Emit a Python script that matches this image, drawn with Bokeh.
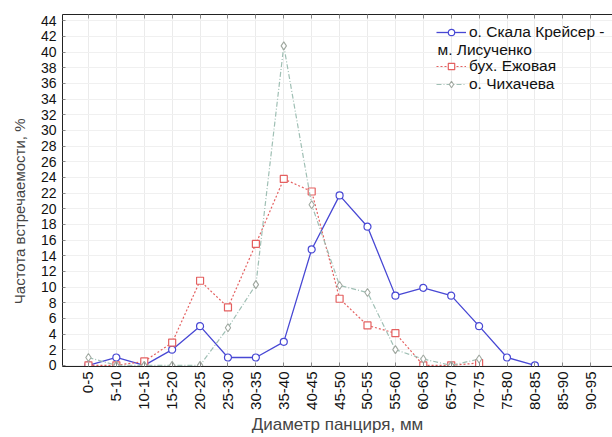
from bokeh.plotting import figure
from bokeh.models import (Range1d, FixedTicker, LinearAxis, Legend, LegendItem, Label)
from bokeh.embed import file_html
from bokeh.resources import INLINE

categories = ["0-5", "5-10", "10-15", "15-20", "20-25", "25-30", "30-35", "35-40",
              "40-45", "45-50", "50-55", "55-60", "60-65", "65-70", "70-75", "75-80",
              "80-85", "85-90", "90-95"]
skala = [0, 1.0, 0, 2.0, 5.0, 1.0, 1.0, 3.0, 14.8, 21.7, 17.7, 8.9, 9.9, 8.9, 5.0, 1.0, 0]
ezhovaya = [0, 0, 0.5, 2.9, 10.8, 7.4, 15.5, 23.8, 22.2, 8.5, 5.1, 4.1, 0, 0, 0.3]
chikhacheva = [1.0, 0, 0, 0, 0, 4.8, 10.3, 40.8, 20.5, 10.2, 9.3, 2.0, 0.8, 0, 0.8]
yticks = list(range(0, 46, 2))

FONT = "Liberation Sans"

p = figure(width=612, height=437, output_backend="svg", toolbar_location=None,
           x_range=Range1d(-0.93, 18.78), y_range=Range1d(-0.15, 44.8),
           min_border_left=62, min_border_right=0, min_border_top=14,
           min_border_bottom=71)
p.outline_line_color = None
p.background_fill_color = "white"
p.border_fill_color = "white"

xs = list(range(len(categories)))

# axes
xa = p.xaxis[0]
xa.ticker = FixedTicker(ticks=xs)
xa.major_label_overrides = {i: c for i, c in enumerate(categories)}
xa.major_label_orientation = 1.5707963
xa.major_label_text_font = FONT
xa.major_label_text_font_size = "15px"
xa.major_label_text_color = "#111111"
xa.major_label_standoff = 5
xa.axis_label = "Диаметр панциря, мм"
xa.axis_label_text_font = FONT
xa.axis_label_text_font_size = "17px"
xa.axis_label_text_font_style = "normal"
xa.axis_label_standoff = 2
xa.major_tick_in = 4
xa.major_tick_out = 0
xa.minor_tick_line_color = None
xa.axis_line_color = "#222222"
xa.major_tick_line_color = "#888888"

ya = p.yaxis[0]
ya.ticker = FixedTicker(ticks=yticks)
ya.major_label_text_font = FONT
ya.major_label_text_font_size = "14px"
ya.major_label_text_color = "#111111"
ya.axis_label = "Частота встречаемости, %" + "\u00a0" * 10
ya.axis_label_text_font = FONT
ya.axis_label_text_font_size = "15px"
ya.axis_label_text_font_style = "normal"
ya.axis_label_standoff = 10
ya.major_tick_in = 3
ya.major_tick_out = 0
ya.minor_tick_line_color = None
ya.axis_line_color = "#222222"
ya.major_tick_line_color = "#888888"
ya.major_label_standoff = 6

top = LinearAxis(ticker=FixedTicker(ticks=[], minor_ticks=xs),
                 minor_tick_in=4, minor_tick_out=0, major_tick_line_color=None,
                 axis_line_color="#222222", minor_tick_line_color="#888888")
p.add_layout(top, "above")

p.xgrid.ticker = FixedTicker(ticks=xs)
p.xgrid.grid_line_color = "#ebebeb"
p.ygrid.ticker = FixedTicker(ticks=yticks)
p.ygrid.grid_line_color = "#f0f0f0"

# series
c_blue = "#4848d4"
c_red = "#e46060"
c_green = "#9fbfb4"

l1 = p.line(xs[:len(skala)], skala, line_color=c_blue, line_width=1.3)
m1 = p.scatter(xs[:len(skala)], skala, marker="circle", size=7, line_color=c_blue,
               fill_color="white", line_width=1.2)
l2 = p.line(xs[:len(ezhovaya)], ezhovaya, line_color=c_red, line_width=1.2, line_dash="2 2")
m2 = p.scatter(xs[:len(ezhovaya)], ezhovaya, marker="square", size=7, line_color=c_red,
               fill_color="white", line_width=1.2)
l3 = p.line(xs[:len(chikhacheva)], chikhacheva, line_color=c_green, line_width=1.2,
            line_dash="5 2 1 2")
m3 = p.scatter(xs[:len(chikhacheva)], chikhacheva, marker="diamond", size=8,
               line_color="#a0a8a0", fill_color="white", line_width=1.1)

dummy = p.line([0], [0], line_alpha=0)

legend = Legend(items=[
    LegendItem(label="о. Скала Крейсер -", renderers=[l1, m1]),
    LegendItem(label=" ", renderers=[dummy]),
    LegendItem(label="бух. Ежовая", renderers=[l2, m2]),
    LegendItem(label="о. Чихачева", renderers=[l3, m3]),
], location=(374, 273), border_line_color=None, background_fill_alpha=0,
    label_text_font=FONT, label_text_font_size="15.5px", label_text_color="#111111",
    glyph_width=30, glyph_height=16, label_height=16, spacing=0, padding=2,
    margin=0, label_standoff=3)
p.add_layout(legend, "center")

p.add_layout(Label(x=375, y=317, x_units="screen", y_units="screen",
                   text="м. Лисученко", text_font=FONT, text_font_size="15.5px",
                   text_color="#111111", text_baseline="middle"))

open("out.html", "w").write(file_html(p, INLINE))
